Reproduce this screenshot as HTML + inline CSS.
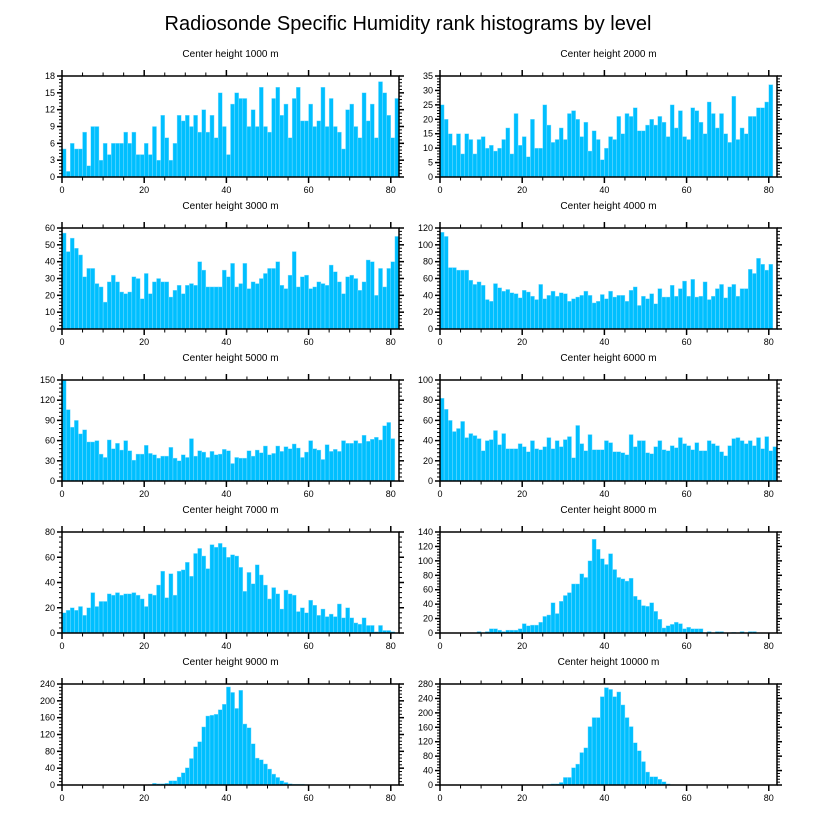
<!DOCTYPE html>
<html><head><meta charset="utf-8"><style>
html,body{margin:0;padding:0;background:#fff}
svg{display:block;font-family:"Liberation Sans",sans-serif}
</style></head><body>
<svg id="fig" width="816" height="824" viewBox="0 0 816 824">
<text x="408" y="30" text-anchor="middle" font-size="20" fill="#000">Radiosonde Specific Humidity rank histograms by level</text>
</svg>
<script>
const panelTitles = ["Center height 1000 m","Center height 2000 m","Center height 3000 m","Center height 4000 m","Center height 5000 m","Center height 6000 m","Center height 7000 m","Center height 8000 m","Center height 9000 m","Center height 10000 m"];
const yMaxes = [18,35,60,120,150,100,80,140,240,280];
const ySteps = [3,5,10,20,30,20,20,20,40,40];
const xTickLabels = [0,20,40,60,80];
const xMax = 82;
const h1000 = [5,1,6,5,5,8,2,9,9,3,6,4,6,6,6,8,6,8,4,4,6,4,9,3,11,7,3,6,11,10,11,9,11,8,12,8,11,7,15,9,4,13,15,14,14,9,12,9,16,9,8,14,16,11,13,7,14,16,10,10,13,9,10,16,9,14,9,8,5,12,13,9,7,15,10,13,7,17,15,11,7,14];
const h2000 = [25,20,15,11,15,8,15,13,8,13,14,10,11,9,10,13,17,8,22,11,14,7,20,10,10,25,18,12,13,17,13,22,23,20,14,19,9,16,13,6,10,14,13,21,15,22,21,24,16,16,18,20,18,21,19,14,25,17,23,14,13,24,23,19,15,26,22,17,22,15,12,28,13,17,15,21,21,24,24,26,32];
const h3000 = [57,46,54,48,44,31,36,36,27,25,16,28,32,28,22,21,22,31,30,18,33,21,28,30,28,28,19,23,26,21,26,27,26,40,35,25,25,25,25,35,31,39,25,27,39,24,28,27,30,33,36,36,40,26,24,32,46,25,31,32,24,25,28,27,26,38,34,28,21,31,32,30,23,28,41,40,20,36,25,36,40,55];
const h4000 = [115,110,73,73,70,70,70,58,53,56,52,35,33,54,49,45,47,43,42,37,46,44,39,35,53,36,40,45,39,43,42,33,36,38,40,45,40,31,33,41,36,45,38,40,40,33,46,50,28,39,36,42,30,48,38,38,52,39,48,57,39,59,38,39,56,35,39,48,53,37,50,53,39,48,48,71,66,84,77,70,77];
const h5000 = [150,106,80,90,70,76,58,58,60,40,35,61,48,56,46,60,45,31,40,40,53,41,39,34,37,37,50,34,30,39,35,63,37,45,43,35,44,39,40,47,45,26,35,34,34,45,37,46,42,52,39,41,52,44,51,48,55,49,35,43,60,48,46,32,54,44,47,44,60,56,56,60,56,68,59,62,65,61,82,87,63];
const h6000 = [82,71,60,49,52,59,43,47,45,42,30,40,41,50,36,47,32,32,32,37,34,29,40,32,31,34,43,32,40,34,41,44,23,55,37,30,46,31,31,31,40,38,29,29,28,26,46,34,40,40,28,27,34,40,31,30,35,33,43,37,35,31,38,30,30,40,37,35,29,25,35,42,43,40,37,40,35,43,32,44,30,34];
const h7000 = [16,18,20,18,21,14,20,32,21,25,25,31,30,32,30,31,31,32,30,27,21,31,30,38,49,28,47,30,49,50,56,45,63,67,61,51,70,68,71,68,60,62,61,52,33,48,39,54,46,38,27,36,31,19,34,31,30,17,20,16,26,22,14,19,13,15,13,23,12,20,12,8,7,12,6,6,1,6,2,2,1];
const h8000 = [0,0,0,0,0,0,0,0,0,2,0,2,6,6,4,2,4,4,4,6,13,10,11,11,15,23,25,42,27,44,52,56,68,68,82,77,100,130,116,103,95,110,88,77,75,72,76,51,46,38,37,42,30,19,7,10,12,15,13,6,8,6,6,6,0,2,0,2,2,0,0,1,0,2,0,2,2,0,0,0,0,0];
const h9000 = [0,0,0,0,0,0,0,0,0,0,0,0,0,0,0,0,0,0,0,0,0,1,4,3,3,4,10,10,19,29,41,63,91,103,138,164,166,168,179,192,233,220,182,225,145,136,98,64,60,50,38,26,18,10,6,3,2,2,2,1,0,0,0,0,0,0,0,0,0,0,0,0,0,0,0,0,0,0,0,0,0,0];
const h10000 = [0,0,0,0,0,0,0,0,0,0,0,0,0,0,0,0,0,0,0,0,0,0,0,0,0,1,2,3,3,7,21,21,48,58,90,103,162,187,187,245,270,265,245,258,222,187,162,117,95,65,36,23,23,16,9,3,1,0,0,0,0,0,0,0,0,0,0,0,0,0,0,0,0,0,0,0,0,0,0,0,0,0];
const seriesList = [h1000,h2000,h3000,h4000,h5000,h6000,h7000,h8000,h9000,h10000];

const NS = "http://www.w3.org/2000/svg";
const svg = document.getElementById("fig");
function mk(tag, attrs, parent){
  const e = document.createElementNS(NS, tag);
  for (const k in attrs) e.setAttribute(k, attrs[k]);
  parent.appendChild(e);
  return e;
}
const colX = [62, 440];
const rowY = [76, 228, 380, 532, 684];
const PW = 337, PH = 101;

seriesList.forEach((vals, p) => {
  const left = colX[p % 2], top = rowY[Math.floor(p / 2)];
  const bottom = top + PH, right = left + PW;
  const ymax = yMaxes[p], ystep = ySteps[p];
  const xs = v => left + v / xMax * PW;
  const ys = v => bottom - v / ymax * PH;
  const g = mk("g", {}, svg);
  
  
  const t = mk("text", {x: left + PW / 2, y: top - 19, "text-anchor": "middle", "font-size": 10}, g);
  t.textContent = panelTitles[p];
  
  
  vals.forEach((v, i) => {
    if (v <= 0) return;
    const x0 = xs(i), x1 = xs(i + 1);
    const r = mk("rect", {x: x0, y: ys(v), width: x1 - x0, height: bottom - ys(v), fill: "#00bfff", stroke: "#8fe0ff", "stroke-width": 0.4}, g);
    
    
  });
  const frame = mk("rect", {x: left, y: top, width: PW, height: PH, fill: "none", stroke: "#000", "stroke-width": 1.5}, g);
  
  
  for (let v = 0; v <= xMax; v += 5) {
    const major = v % 20 === 0;
    const L = major ? 6 : 3.5, sw = major ? 1.5 : 1;
    mk("line", {x1: xs(v), x2: xs(v), y1: bottom, y2: bottom + L, stroke: "#000", "stroke-width": sw}, g);
    mk("line", {x1: xs(v), x2: xs(v), y1: top, y2: top - L, stroke: "#000", "stroke-width": sw}, g);
  }
  xTickLabels.forEach(v => {
    const tl = mk("text", {x: xs(v), y: bottom + 16, "text-anchor": "middle", "font-size": 9}, g);
    tl.textContent = v;
    
    
  });
  const minor = ystep / 5;
  for (let k = 0; k * minor <= ymax + 1e-9; k++) {
    const v = k * minor;
    const major = k % 5 === 0;
    const L = major ? 5 : 3, sw = major ? 1.5 : 1;
    mk("line", {x1: left, x2: left - L, y1: ys(v), y2: ys(v), stroke: "#000", "stroke-width": sw}, g);
    mk("line", {x1: right, x2: right + L, y1: ys(v), y2: ys(v), stroke: "#000", "stroke-width": sw}, g);
  }
  for (let v = 0; v <= ymax + 1e-9; v += ystep) {
    const yl = mk("text", {x: left - 7, y: ys(v) + 3, "text-anchor": "end", "font-size": 9}, g);
    yl.textContent = v;
    
    
  }
});
</script>
</body></html>
